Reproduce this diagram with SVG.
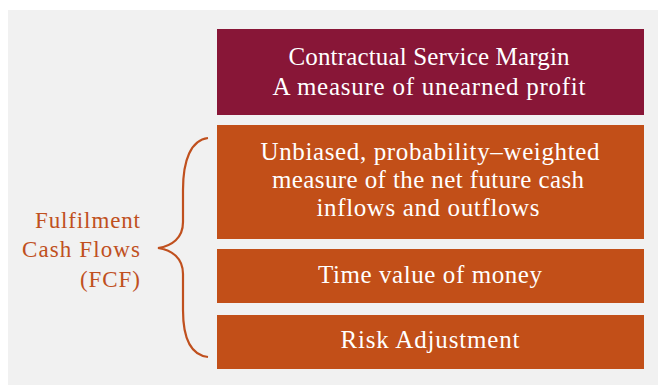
<svg xmlns="http://www.w3.org/2000/svg" width="658" height="385" viewBox="0 0 658 385">
<style>
  .t { font-family: "Liberation Serif", "Times New Roman", serif; font-size: 25px; fill: #ffffff; text-anchor: middle; }
  .lbl { font-family: "Liberation Serif", "Times New Roman", serif; font-size: 23px; fill: #C0501E; text-anchor: end; }
  .maroon { fill: #881637; }
  .orange { fill: #C24F18; }
</style>
<rect x="0" y="0" width="658" height="385" fill="#ffffff"/>
<rect x="8" y="10" width="650" height="375" fill="#F1F1F1"/>
<g id="csm">
  <rect class="maroon" x="217" y="29" width="427" height="86"/>
  <text class="t" x="429" y="65" textLength="281">Contractual Service Margin</text>
  <text class="t" x="429" y="95" textLength="313">A measure of unearned profit</text>
</g>
<g id="cashflows">
  <rect class="orange" x="217" y="125" width="427" height="114"/>
  <text class="t" x="430" y="160" textLength="339">Unbiased, probability–weighted</text>
  <text class="t" x="428" y="188" textLength="312">measure of the net future cash</text>
  <text class="t" x="428" y="216" textLength="223">inflows and outflows</text>
</g>
<g id="tvm">
  <rect class="orange" x="217" y="249" width="427" height="54"/>
  <text class="t" x="430" y="283" textLength="224">Time value of money</text>
</g>
<g id="ra">
  <rect class="orange" x="217" y="315" width="427" height="54"/>
  <text class="t" x="430" y="348" textLength="179">Risk Adjustment</text>
</g>
<g id="fcf">
  <text class="lbl" x="140" y="228" textLength="105">Fulfilment</text>
  <text class="lbl" x="140" y="257" textLength="118">Cash Flows</text>
  <text class="lbl" x="140" y="287" textLength="60">(FCF)</text>
</g>
<g id="connectors">
  <path d="M208,138 C191,140 183,160 183,190 L183,222 C183,238 172,246 158,248 C172,250 183,258 183,274 L183,310 C183,340 191,355 208,357" fill="none" stroke="#C0501E" stroke-width="2.2"/>
</g>
</svg>
